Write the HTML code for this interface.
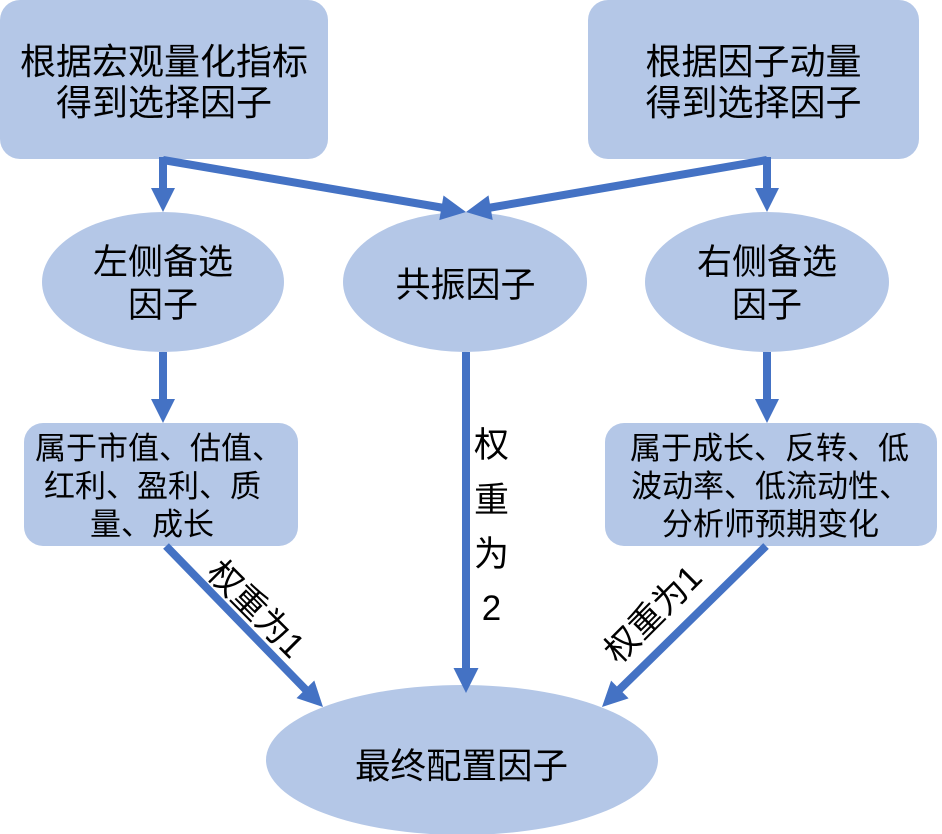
<!DOCTYPE html>
<html>
<head>
<meta charset="utf-8">
<style>
html,body{margin:0;padding:0;background:#fff;}
svg{display:block;}
text{font-family:"Liberation Sans","Noto Sans CJK SC",sans-serif;fill:#000;}
</style>
</head>
<body>
<svg width="942" height="834" viewBox="0 0 942 834" xmlns="http://www.w3.org/2000/svg">
  <!-- top boxes -->
  <rect x="0" y="0" width="328" height="159" rx="20" ry="20" fill="#B4C7E7"/>
  <rect x="588" y="0" width="331" height="159" rx="20" ry="20" fill="#B4C7E7"/>
  <text x="164" y="74" font-size="36" text-anchor="middle">根据宏观量化指标</text>
  <text x="164" y="115" font-size="36" text-anchor="middle">得到选择因子</text>
  <text x="753.5" y="74" font-size="36" text-anchor="middle">根据因子动量</text>
  <text x="753.5" y="115" font-size="36" text-anchor="middle">得到选择因子</text>

  <!-- ellipses -->
  <ellipse cx="163" cy="282" rx="121" ry="70" fill="#B4C7E7"/>
  <ellipse cx="465" cy="282" rx="122" ry="70" fill="#B4C7E7"/>
  <ellipse cx="767" cy="282" rx="122" ry="70" fill="#B4C7E7"/>
  <text x="163" y="274" font-size="35" text-anchor="middle">左侧备选</text>
  <text x="163" y="317" font-size="35" text-anchor="middle">因子</text>
  <text x="465.5" y="297" font-size="35" text-anchor="middle">共振因子</text>
  <text x="767" y="274" font-size="35" text-anchor="middle">右侧备选</text>
  <text x="767" y="317" font-size="35" text-anchor="middle">因子</text>

  <!-- lower boxes -->
  <rect x="24" y="423" width="274" height="123" rx="19" ry="19" fill="#B4C7E7"/>
  <rect x="605" y="423" width="332" height="123" rx="19" ry="19" fill="#B4C7E7"/>
  <text x="35" y="459" font-size="31">属于市值、估值、</text>
  <text x="44" y="497" font-size="31">红利、盈利、质</text>
  <text x="90" y="535" font-size="31">量、成长</text>
  <text x="630" y="459" font-size="31">属于成长、反转、低</text>
  <text x="631" y="497" font-size="31">波动率、低流动性、</text>
  <text x="662" y="535" font-size="31">分析师预期变化</text>

  <!-- final ellipse -->
  <ellipse cx="462" cy="760" rx="196" ry="75" fill="#B4C7E7"/>
  <text x="461.5" y="778" font-size="35.5" text-anchor="middle">最终配置因子</text>

  <!-- arrows -->
  <g stroke="#4472C4" stroke-width="8" fill="none" stroke-linecap="butt">
    <line x1="163" y1="157" x2="163" y2="190"/>
    <line x1="767" y1="157" x2="767" y2="190"/>
    <line x1="163" y1="160" x2="444" y2="208"/>
    <line x1="767" y1="160" x2="488" y2="208"/>
    <line x1="163" y1="352" x2="163" y2="401"/>
    <line x1="767" y1="352" x2="767" y2="401"/>
    <line x1="466" y1="352" x2="466" y2="670"/>
    <line x1="166" y1="546" x2="307" y2="691"/>
    <line x1="766" y1="546" x2="618" y2="691"/>
  </g>
  <g fill="#4472C4">
    <polygon points="151,188 175,188 163,212"/>
    <polygon points="755,188 779,188 767,212"/>
    <polygon points="443.5,195.5 439.3,220.1 466,212"/>
    <polygon points="488.5,195.4 492.7,220.0 466,212"/>
    <polygon points="151,399 175,399 163,423"/>
    <polygon points="755,399 779,399 767,423"/>
    <polygon points="453.5,668 478.5,668 466,693"/>
    <polygon points="296.5,698.1 314.3,680.5 323,707"/>
    <polygon points="611.1,680.6 628.6,698.4 602,707"/>
  </g>

  <!-- labels -->
  <text x="491.5" y="457" font-size="35" text-anchor="middle">权</text>
  <text x="491.5" y="512" font-size="35" text-anchor="middle">重</text>
  <text x="491.5" y="566" font-size="35" text-anchor="middle">为</text>
  <text x="491.5" y="620" font-size="35" text-anchor="middle">2</text>

  <text transform="translate(257,608) rotate(45)" x="0" y="13" font-size="34" text-anchor="middle">权重为1</text>
  <text transform="translate(652,613) rotate(-45)" x="0" y="13" font-size="34" text-anchor="middle">权重为1</text>
</svg>
</body>
</html>
